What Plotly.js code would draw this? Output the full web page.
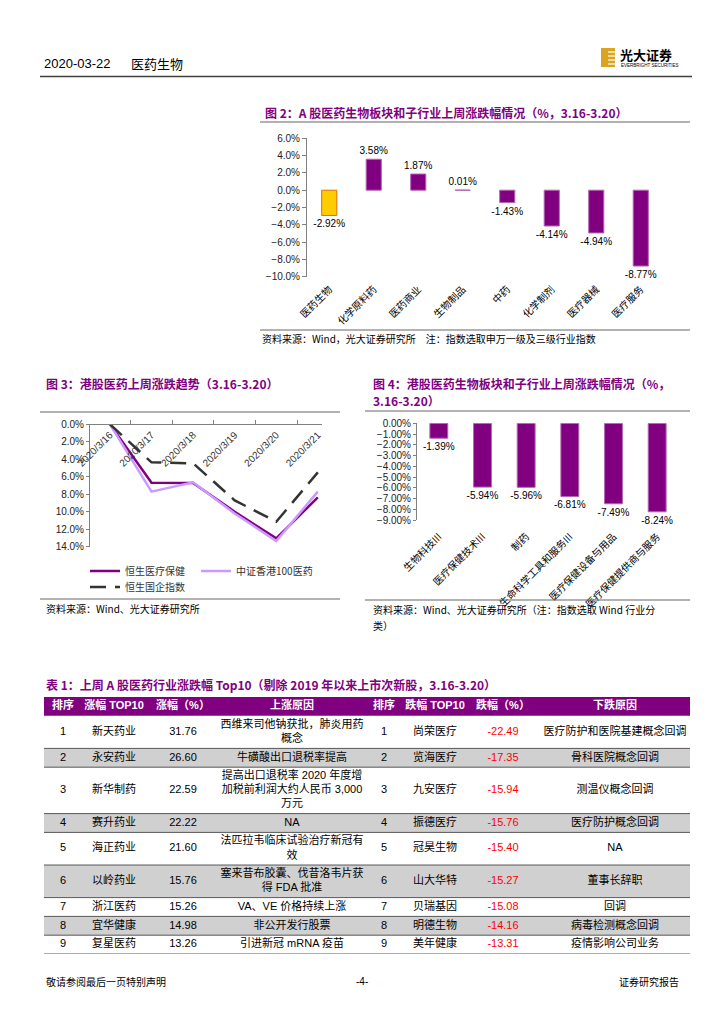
<!DOCTYPE html>
<html><head><meta charset="utf-8">
<script src="https://cdn.plot.ly/plotly-3.0.1.min.js"></script>
<style>html,body{margin:0;padding:0;background:#fff}#chart{width:724px;height:1024px}</style>
</head><body><div id="chart"></div>
<script>
// ---------- data ----------
const fig2Categories = ['医药生物','化学原料药','医药商业','生物制品','中药','化学制剂','医疗器械','医疗服务'];
const fig2Values = [-2.92, 3.58, 1.87, 0.01, -1.43, -4.14, -4.94, -8.77];

const fig3Dates = ['2020/3/16','2020/3/17','2020/3/18','2020/3/19','2020/3/20','2020/3/21'];
const hsHealthcare = [0, -6.68, -6.72, -10.0, -13.05, -8.36];
const csiHK100Pharma = [0, -7.7, -6.64, -10.2, -13.35, -7.7];
const hsChinaEnterprises = [0, -4.35, -4.46, -8.7, -11.14, -5.5];
const fig3SeriesNames = ['恒生医疗保健','中证香港100医药','恒生国企指数'];
const fig3YTickVals = [0, -2, -4, -6, -8, -10, -12, -14];
const fig3YTickText = ['0.0%','2.0%','4.0%','6.0%','8.0%','10.0%','12.0%','14.0%'];

const fig4Categories = ['生物科技III','医疗保健技术III','制药','生命科学工具和服务III','医疗保健设备与用品','医疗保健提供商与服务'];
const fig4Values = [-1.39, -5.94, -5.96, -6.81, -7.49, -8.24];

const tableHeader = ['排序','涨幅 TOP10','涨幅（%）','上涨原因','排序','跌幅 TOP10','跌幅（%）','下跌原因'];
const upRank = [1,2,3,4,5,6,7,8,9];
const upName = ['新天药业','永安药业','新华制药','赛升药业','海正药业','以岭药业','浙江医药','宜华健康','复星医药'];
const upPct = ['31.76','26.60','22.59','22.22','21.60','15.76','15.26','14.98','13.26'];
const upReason = ['西维来司他钠获批，肺炎用药<br>概念','牛磺酸出口退税率提高','提高出口退税率 2020 年度增<br>加税前利润大约人民币 3,000<br>万元','NA','法匹拉韦临床试验治疗新冠有<br>效','塞来昔布胶囊、伐昔洛韦片获<br>得 FDA 批准','VA、VE 价格持续上涨','非公开发行股票','引进新冠 mRNA 疫苗'];
const downRank = [1,2,3,4,5,6,7,8,9];
const downName = ['尚荣医疗','览海医疗','九安医疗','振德医疗','冠昊生物','山大华特','贝瑞基因','明德生物','美年健康'];
const downPct = ['-22.49','-17.35','-15.94','-15.76','-15.40','-15.27','-15.08','-14.16','-13.31'];
const downReason = ['医疗防护和医院基建概念回调','骨科医院概念回调','测温仪概念回调','医疗防护概念回调','NA','董事长辞职','回调','病毒检测概念回调','疫情影响公司业务'];

// ---------- helpers ----------
const W = 724, H = 1024;
const px = x => x / W;
const py = y => 1 - y / H;
const CJK = '"Noto Sans CJK SC", sans-serif';
const LAT = '"Liberation Sans", Arial, "Noto Sans CJK SC", sans-serif';
const PURPLE = '#800080';
const GOLD = '#FFCC00';
const LINEC = '#808080';

// ---------- traces ----------
const traces = [];
traces.push({
  type: 'bar', x: fig2Categories, y: fig2Values, xaxis: 'x', yaxis: 'y',
  width: 0.34,
  marker: {color: fig2Values.map((v, i) => i === 0 ? GOLD : PURPLE),
           line: {color: fig2Values.map((v, i) => i === 0 ? '#E46C0A' : '#B266B2'), width: 1}},
  text: fig2Values.map(v => v.toFixed(2) + '%'), textposition: 'outside', cliponaxis: false,
  constraintext: 'none',
  textfont: {family: LAT, size: 10, color: '#000'}, showlegend: false, hoverinfo: 'skip'
});
const f3colors = [PURPLE, '#CC99FF', '#333333'];
const f3legends = ['legend', 'legend3', 'legend2'];
const f3data = [hsHealthcare, csiHK100Pharma, hsChinaEnterprises];
f3data.forEach((vals, i) => {
  traces.push({
    type: 'scatter', mode: 'lines', x: fig3Dates, y: vals, xaxis: 'x2', yaxis: 'y2',
    name: fig3SeriesNames[i], legend: f3legends[i],
    line: {color: f3colors[i], width: 2.5, dash: i === 2 ? '16px,9px' : 'solid'},
    hoverinfo: 'skip'
  });
});
traces.push({
  type: 'bar', x: fig4Categories, y: fig4Values, xaxis: 'x3', yaxis: 'y3',
  width: 0.41,
  marker: {color: PURPLE, line: {color: '#B266B2', width: 1}},
  text: fig4Values.map(v => v.toFixed(2) + '%'), textposition: 'outside', cliponaxis: false,
  constraintext: 'none',
  textfont: {family: LAT, size: 10, color: '#000'}, showlegend: false, hoverinfo: 'skip'
});

// ---------- table (drawn on a hidden cartesian subplot, units = px) ----------
const colWidths = [38, 64, 74, 144, 40, 62, 74, 150];
const tableCols = [upRank, upName, upPct, upReason, downRank, downName, downPct, downReason];
const ROW_PAD = 5, LINE_H = 13.8;
const colEdges = [0];
colWidths.forEach(w => colEdges.push(colEdges[colEdges.length - 1] + w));
const colCenters = colWidths.map((w, i) => colEdges[i] + w / 2);
const tableW = colEdges[colEdges.length - 1];
const headerH = ROW_PAD + LINE_H;
const rowLines = upRank.map((r, i) => Math.max(...tableCols.map(c => String(c[i]).split('<br>').length)));
const rowTops = [];
let acc = headerH;
rowLines.forEach(n => { rowTops.push(acc); acc += ROW_PAD + n * LINE_H; });
const tableH = acc;
const rowBottoms = rowLines.map((n, i) => rowTops[i] + ROW_PAD + n * LINE_H);
const rowCenters = rowTops.map((t, i) => (t + rowBottoms[i]) / 2);
const TABLE_TOP = 697;

tableCols.forEach((col, c) => {
  traces.push({
    type: 'scatter', mode: 'text', xaxis: 'x6', yaxis: 'y6',
    x: col.map(() => colCenters[c]), y: rowCenters, text: col.map(String),
    textposition: 'middle center', cliponaxis: false,
    textfont: {family: LAT, size: 11, color: c === 6 ? '#FF0000' : '#000000'},
    showlegend: false, hoverinfo: 'skip'
  });
});
traces.push({
  type: 'scatter', mode: 'text', xaxis: 'x6', yaxis: 'y6',
  x: colCenters, y: colCenters.map(() => headerH / 2),
  text: tableHeader.map(h => '<b>' + h + '</b>'), textposition: 'middle center', cliponaxis: false,
  textfont: {family: LAT, size: 11, color: '#FFFFFF'}, showlegend: false, hoverinfo: 'skip'
});

// ---------- layout ----------
const y1dom = [py(276.7), py(138.3)];
const y1range = [-10, 6];
const zeroPos = y1dom[0] + (0 - y1range[0]) / (y1range[1] - y1range[0]) * (y1dom[1] - y1dom[0]);
const y2dom = [py(546.7), py(424.3)];

const tf = {family: LAT, size: 10, color: '#222'};
const legendBase = {xanchor: 'left', yanchor: 'middle', orientation: 'h',
                    font: {family: CJK, size: 10, color: '#333'}, bgcolor: 'rgba(0,0,0,0)', itemwidth: 30};
const layout = {
  width: W, height: H, margin: {l: 0, r: 0, t: 0, b: 0},
  paper_bgcolor: '#FFFFFF', plot_bgcolor: 'rgba(0,0,0,0)',
  bargap: 0.5,
  xaxis: {domain: [px(307), px(663)], anchor: 'y', type: 'category', showline: false, ticks: '',
          tickangle: -45, tickfont: {family: CJK, size: 10, color: '#000'}, showgrid: false, zeroline: false,
          ticklabelstandoff: 4, fixedrange: true},
  yaxis: {domain: y1dom, anchor: 'x', range: y1range, dtick: 2, tick0: 0, tickformat: '.1f', ticksuffix: '%',
          showline: true, linecolor: LINEC, ticks: 'outside', ticklen: 4, tickcolor: LINEC,
          tickfont: tf, showgrid: false, zeroline: false, fixedrange: true},
  xaxis4: {overlaying: 'x', anchor: 'free', position: zeroPos, side: 'bottom', range: [-0.5, 7.5],
           tick0: -0.5, dtick: 1, showline: true, linecolor: LINEC, ticks: 'outside', ticklen: 4, tickcolor: LINEC,
           showticklabels: false, showgrid: false, zeroline: false, fixedrange: true},
  xaxis2: {domain: [px(90), px(322)], anchor: 'free', position: y2dom[1], side: 'bottom', type: 'category',
           range: [-0.48, 5.1], showline: true, linecolor: LINEC, ticks: 'inside', ticklen: 4, tickcolor: LINEC,
           tickson: 'boundaries', tickangle: -45, tickfont: {family: LAT, size: 10, color: '#333'},
           showgrid: false, zeroline: false, fixedrange: true, ticklabelstandoff: 0},
  yaxis2: {domain: y2dom, anchor: 'x2', range: [-14, 0], tickvals: fig3YTickVals, ticktext: fig3YTickText,
           showline: true, linecolor: LINEC, ticks: 'outside', ticklen: 3, tickcolor: LINEC,
           tickfont: tf, showgrid: false, zeroline: false, fixedrange: true},
  xaxis3: {domain: [px(417), px(679)], anchor: 'y3', type: 'category', showline: false, ticks: '',
           tickangle: -45, tickfont: {family: CJK, size: 10, color: '#000'}, showgrid: false, zeroline: false,
           ticklabelstandoff: 8, fixedrange: true},
  yaxis3: {domain: [py(520), py(423.3)], anchor: 'x3', range: [-9, 0], dtick: 1, tick0: 0, tickformat: '.2f',
           ticksuffix: '%', showline: true, linecolor: LINEC, ticks: 'outside', ticklen: 3, tickcolor: LINEC,
           tickfont: tf, showgrid: false, zeroline: false, fixedrange: true},
  xaxis5: {overlaying: 'x3', anchor: 'y3', side: 'top', range: [-0.5, 5.5], tick0: -0.5, dtick: 1,
           showline: true, linecolor: LINEC, ticks: 'outside', ticklen: 4, tickcolor: LINEC,
           showticklabels: false, showgrid: false, zeroline: false, fixedrange: true},
  xaxis6: {domain: [px(44), px(44 + tableW)], anchor: 'y6', range: [0, tableW], visible: false, fixedrange: true},
  yaxis6: {domain: [py(TABLE_TOP + tableH), py(TABLE_TOP)], anchor: 'x6', range: [tableH, 0], visible: false, fixedrange: true},
  legend: Object.assign({}, legendBase, {x: px(85), y: py(571)}),
  legend3: Object.assign({}, legendBase, {x: px(196), y: py(571)}),
  legend2: Object.assign({}, legendBase, {x: px(85), y: py(587)}),
  annotations: [],
  shapes: []
};

// table backgrounds and rules (in table data units)
layout.shapes.push({type: 'rect', xref: 'x6', yref: 'y6', x0: 0, x1: tableW, y0: 0, y1: headerH,
                    fillcolor: PURPLE, line: {width: 0}, layer: 'below'});
rowTops.forEach((t, i) => {
  if (i % 2 === 1) {
    layout.shapes.push({type: 'rect', xref: 'x6', yref: 'y6', x0: 0, x1: tableW, y0: t, y1: rowBottoms[i],
                        fillcolor: '#D0D0D0', line: {width: 0}, layer: 'below'});
  }
});
rowTops.forEach((t, i) => {
  layout.shapes.push({type: 'line', xref: 'x6', yref: 'y6', x0: 0, x1: tableW, y0: rowBottoms[i], y1: rowBottoms[i],
                      line: {color: '#333333', width: 0.8}, layer: 'above'});
});

function txt(t, x, y, opts) {
  opts = opts || {};
  layout.annotations.push({
    text: t, x: px(x), y: py(y), xref: 'paper', yref: 'paper', showarrow: false,
    xanchor: opts.xanchor || 'left', yanchor: 'middle',
    font: {family: opts.family || CJK, size: opts.size || 10, color: opts.color || '#000'}
  });
}
function hline(x0, x1, y, color, w) {
  layout.shapes.push({type: 'line', xref: 'paper', yref: 'paper', x0: px(x0), x1: px(x1), y0: py(y), y1: py(y),
                      line: {color: color, width: w}});
}

// header
txt('2020-03-22', 42, 63, {size: 13, family: LAT});
txt('医药生物', 129, 63, {size: 13});
hline(40, 692, 76.5, '#404040', 1.5);
// logo
layout.shapes.push({type: 'rect', xref: 'paper', yref: 'paper', x0: px(601), x1: px(615), y0: py(67), y1: py(48),
                    fillcolor: '#D9A520', line: {width: 0}});
[52, 56, 60, 64].forEach(yy => layout.shapes.push({type: 'line', xref: 'paper', yref: 'paper', x0: px(608), x1: px(615),
                    y0: py(yy), y1: py(yy), line: {color: '#FFFFFF', width: 1.2}}));
txt('<b>光大证券</b>', 618, 54, {size: 13});
txt('EVERBRIGHT SECURITIES', 619, 65, {size: 4.5, family: LAT});

// figure 2
txt('<b>图 2：A 股医药生物板块和子行业上周涨跌幅情况（%，3.16-3.20）</b>', 263, 112, {size: 12, color: PURPLE});
hline(260, 690, 122, '#666', 1.2);
hline(260, 690, 330, '#666', 1.2);
txt('资料来源：Wind，光大证券研究所　注：指数选取申万一级及三级行业指数', 260, 338, {size: 10});

// figure 3
txt('<b>图 3：港股医药上周涨跌趋势（3.16-3.20）</b>', 44, 383, {size: 12, color: PURPLE});
hline(40, 340, 412, '#666', 1.2);
hline(40, 340, 599, '#666', 1.2);
txt('资料来源：Wind、光大证券研究所', 44, 608, {size: 10});

// figure 4
txt('<b>图 4：港股医药生物板块和子行业上周涨跌幅情况（%，</b>', 371, 383, {size: 12, color: PURPLE});
txt('<b>3.16-3.20）</b>', 371, 400, {size: 12, color: PURPLE});
hline(365, 690, 411, '#666', 1.2);
hline(365, 690, 600, '#666', 1.2);
txt('资料来源：Wind、光大证券研究所（注：指数选取 Wind 行业分', 371, 609, {size: 10});
txt('类）', 371, 625, {size: 10});

// table title
txt('<b>表 1：上周 A 股医药行业涨跌幅 Top10（剔除 2019 年以来上市次新股，3.16-3.20）</b>', 44, 684, {size: 12, color: PURPLE});

// footer
txt('敬请参阅最后一页特别声明', 44, 981, {size: 10});
txt('-4-', 362, 981, {size: 10, family: LAT, xanchor: 'center'});
txt('证券研究报告', 681, 981, {size: 10, xanchor: 'right'});

Plotly.newPlot('chart', traces, layout, {staticPlot: true, displayModeBar: false});
</script>
</body></html>
